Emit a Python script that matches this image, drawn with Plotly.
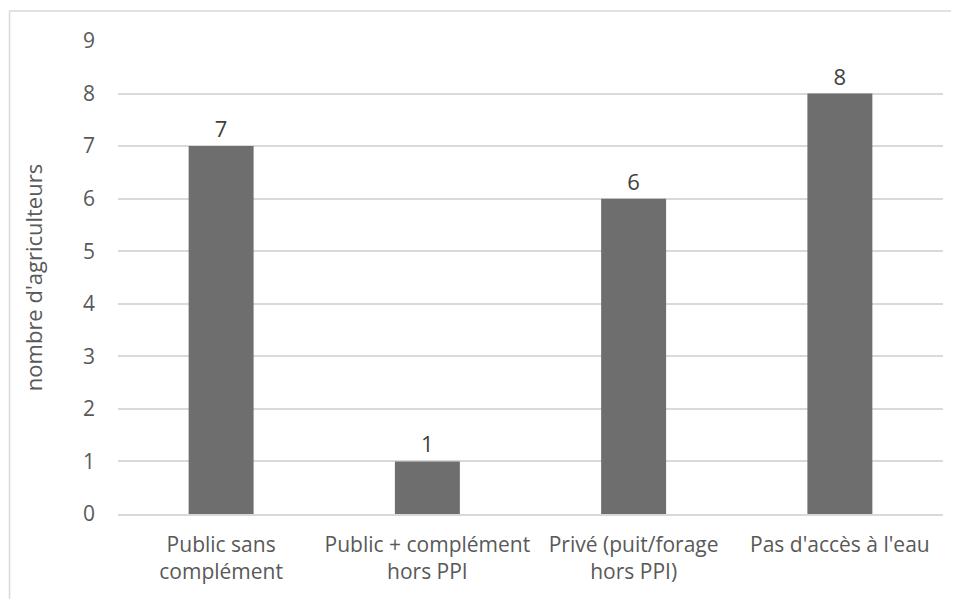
import plotly.graph_objects as go

categories = ["Public sans<br>complément", "Public + complément<br>hors PPI",
              "Privé (puit/forage<br>hors PPI)", "Pas d'accès à l'eau"]
values = [7, 1, 6, 8]
y_ticks = [0, 1, 2, 3, 4, 5, 6, 7, 8, 9]

FONT = "Open Sans, sans-serif"

fig = go.Figure(go.Bar(
    x=categories, y=values,
    marker=dict(color="#6e6e6e", line=dict(width=0)),
    text=values, textposition="outside", cliponaxis=False,
    textfont=dict(family=FONT, size=22, color="#404040"),
))

fig.update_layout(
    width=951, height=591,
    margin=dict(l=110, r=16, t=33, b=85),
    paper_bgcolor="white", plot_bgcolor="white",
    bargap=0.685, showlegend=False,
    font=dict(family=FONT, color="#595959", size=21),
    xaxis=dict(showgrid=False, showline=True, linecolor="#d9d9d9", linewidth=1.5,
               ticks="", ticklabelstandoff=11,
               tickfont=dict(size=21, color="#595959")),
    yaxis=dict(range=[0, 9], tickvals=y_ticks, showgrid=True, gridcolor="#d9d9d9",
               gridwidth=1.5, zeroline=False, showline=False, ticks="",
               ticklen=0, ticklabelstandoff=22,
               tickfont=dict(size=21, color="#595959"),
               title=dict(text="nombre d'agriculteurs", standoff=34,
                          font=dict(size=22, color="#595959"))),
    shapes=[dict(type="rect", xref="paper", yref="paper",
                 x0=-0.1315, x1=1.2, y0=-0.4, y1=1.0634,
                 line=dict(color="#d9d9d9", width=1.5), fillcolor="rgba(0,0,0,0)",
                 layer="below")],
)

fig.write_html("out.html")
